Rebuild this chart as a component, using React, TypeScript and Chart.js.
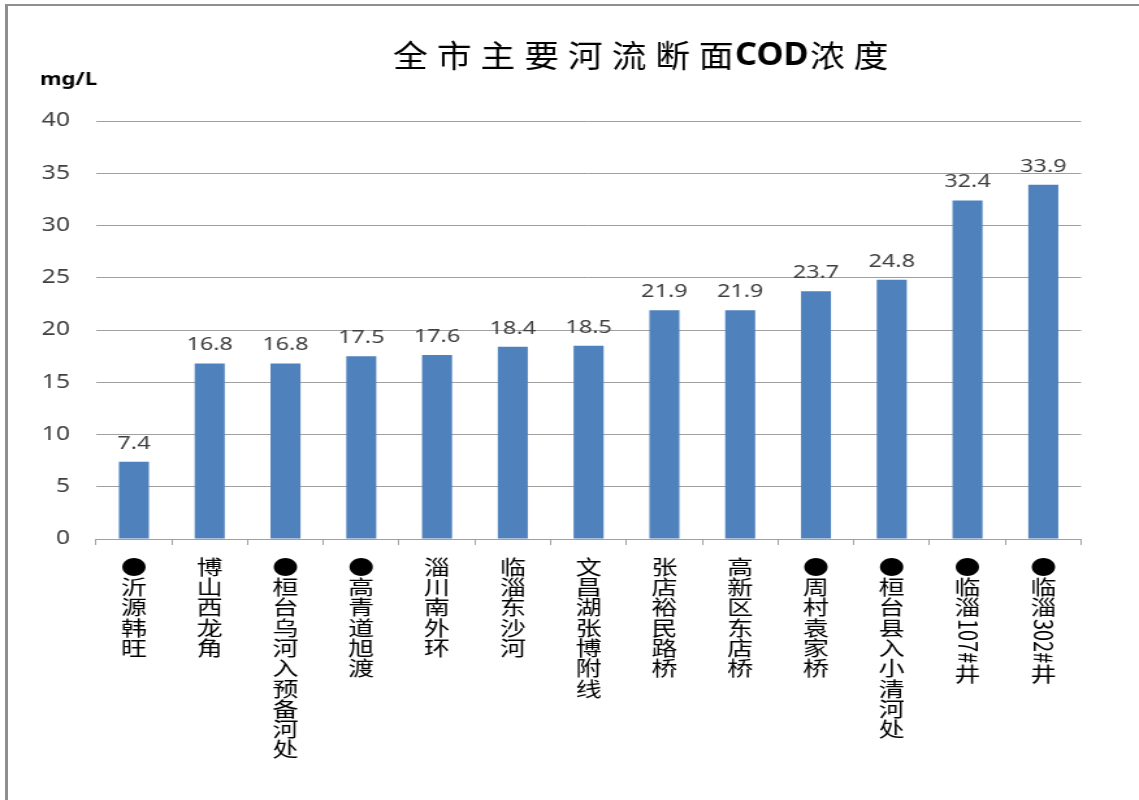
import React, { useEffect, useRef } from 'react';
import { Chart, registerables } from 'chart.js';

Chart.register(...registerables);

// ---- data ----
const TITLE_MAIN = '全市主要河流断面';
const TITLE_CODE = 'COD';
const TITLE_TAIL = '浓度';
const UNIT_LABEL = 'mg/L';
const categories = [
  '●沂源韩旺',
  '博山西龙角',
  '●桓台乌河入预备河处',
  '●高青道旭渡',
  '淄川南外环',
  '临淄东沙河',
  '文昌湖张博附线',
  '张店裕民路桥',
  '高新区东店桥',
  '●周村袁家桥',
  '●桓台县入小清河处',
  '●临淄107#井',
  '●临淄302#井',
];
const codValues = [7.4, 16.8, 16.8, 17.5, 17.6, 18.4, 18.5, 21.9, 21.9, 23.7, 24.8, 32.4, 33.9];
const Y_MIN = 0;
const Y_MAX = 40;
const Y_STEP = 5;

// ---- layout (the reference is horizontally stretched) ----
const SX = 1.3;
const FULL_W = 1139;
const FULL_H = 800;
const IW = Math.round(FULL_W / SX);
const PLOT_LEFT = 96 / SX;
const PLOT_RIGHT = 1081 / SX;
const PLOT_TOP = 121;
const PLOT_BOTTOM = 539;
const LINE_PITCH = 20.3;

const CJK = '"Noto Sans CJK SC", "Noto Sans", sans-serif';
const LATIN = '"Noto Sans", "DejaVu Sans", sans-serif';

const textPlugin = {
  id: 'customText',
  afterDraw(chart: any) {
    const ctx: CanvasRenderingContext2D = chart.ctx;
    const xs = chart.scales.x;
    ctx.save();

    // Title
    ctx.fillStyle = '#000';
    ctx.textBaseline = 'middle';
    ctx.textAlign = 'left';
    const ty = 55;
    const tx = 393 / SX;
    const cjkScale = 0.86;
    const cjkSize = 31;
    const pitch = 43.7 / SX;
    const drawScaled = (s: string, x: number, y: number, k: number) => {
      ctx.save();
      ctx.translate(x, y);
      ctx.scale(k, 1);
      ctx.fillText(s, 0, 0);
      ctx.restore();
    };
    ctx.font = `${cjkSize}px ${CJK}`;
    const mainChars = Array.from(TITLE_MAIN);
    mainChars.forEach((ch, i) => {
      drawScaled(ch, tx + i * pitch, ty, cjkScale);
    });
    let cx = tx + (mainChars.length - 1) * pitch + cjkSize * cjkScale + 1;
    ctx.font = `bold 33px ${LATIN}`;
    const codK = 0.8;
    drawScaled(TITLE_CODE, cx, ty + 1, codK);
    cx += ctx.measureText(TITLE_CODE).width * codK + 1;
    ctx.font = `${cjkSize}px ${CJK}`;
    Array.from(TITLE_TAIL).forEach((ch, i) => {
      drawScaled(ch, cx + i * pitch, ty, cjkScale);
    });

    // Unit label
    ctx.font = `bold 17px ${LATIN}`;
    ctx.textBaseline = 'alphabetic';
    ctx.fillStyle = '#000';
    ctx.fillText(UNIT_LABEL, 40 / SX, 85);

    // Data labels
    const meta = chart.getDatasetMeta(0);
    const vals = chart.data.datasets[0].data;
    ctx.font = `18px ${LATIN}`;
    ctx.fillStyle = '#404040';
    ctx.textAlign = 'center';
    ctx.textBaseline = 'alphabetic';
    meta.data.forEach((bar: any, i: number) => {
      ctx.fillText(Number(vals[i]).toFixed(1), bar.x, bar.y - 13);
    });

    // Category labels, written vertically
    ctx.font = `20px ${CJK}`;
    ctx.fillStyle = '#000';
    (chart.data.labels as string[]).forEach((lab, i) => {
      const x = xs.getPixelForValue(i);
      let y = 557;
      const tokens = lab.match(/[\x21-\x7e]+|./gu) || [];
      for (const t of tokens) {
        if (/^[\x21-\x7e]+$/.test(t)) {
          const w = ctx.measureText(t).width;
          ctx.save();
          ctx.translate(x, y + 1);
          ctx.rotate(Math.PI / 2);
          ctx.textAlign = 'left';
          ctx.textBaseline = 'middle';
          ctx.fillText(t, 0, 0);
          ctx.restore();
          y += w + 2;
        } else {
          ctx.textAlign = 'center';
          ctx.textBaseline = 'middle';
          ctx.fillText(t, x, y + LINE_PITCH / 2);
          y += LINE_PITCH;
        }
      }
    });

    ctx.restore();
  },
};

export default function App() {
  const canvasRef = useRef<HTMLCanvasElement | null>(null);

  useEffect(() => {
    if (!canvasRef.current) return;
    const chart = new Chart(canvasRef.current, {
      type: 'bar',
      data: {
        labels: categories,
        datasets: [
          {
            data: codValues,
            backgroundColor: '#4F81BD',
            borderWidth: 0,
            barPercentage: 0.396,
            categoryPercentage: 1,
          },
        ],
      },
      options: {
        responsive: false,
        animation: false,
        events: [],
        layout: {
          padding: { top: PLOT_TOP, right: IW - PLOT_RIGHT, left: 0, bottom: 0 },
        },
        plugins: {
          legend: { display: false },
          title: { display: false },
          tooltip: { enabled: false },
        },
        scales: {
          x: {
            offset: true,
            grid: {
              display: true,
              drawOnChartArea: false,
              drawTicks: true,
              tickLength: 6,
              color: '#A0A0A0',
              offset: true,
            },
            border: { display: true, color: '#A0A0A0', width: 1 },
            ticks: { display: false },
            afterFit: (scale: any) => {
              scale.height = FULL_H - PLOT_BOTTOM;
            },
          },
          y: {
            min: Y_MIN,
            max: Y_MAX,
            ticks: {
              stepSize: Y_STEP,
              padding: 20,
              color: '#404040',
              font: { family: LATIN, size: 19 },
            },
            grid: { color: '#A0A0A0', drawTicks: false, lineWidth: 1 },
            border: { display: false },
            afterFit: (scale: any) => {
              scale.width = PLOT_LEFT;
            },
          },
        },
      },
      plugins: [textPlugin],
    } as any);
    return () => chart.destroy();
  }, []);

  return (
    <div
      style={{
        position: 'fixed',
        left: 0,
        top: 0,
        width: FULL_W,
        height: FULL_H,
        background: '#fff',
        overflow: 'hidden',
      }}
    >
      <div
        style={{
          position: 'absolute',
          left: 0,
          top: 0,
          width: IW,
          height: FULL_H,
          transform: `scaleX(${FULL_W / IW})`,
          transformOrigin: '0 0',
        }}
      >
        <canvas ref={canvasRef} width={IW} height={FULL_H} />
      </div>
      <div style={{ position: 'absolute', left: 5, top: 4, width: 3, height: FULL_H - 4, background: '#8F8F8F' }} />
      <div style={{ position: 'absolute', left: 5, top: 4, width: FULL_W - 5, height: 2, background: '#8F8F8F' }} />
    </div>
  );
}
